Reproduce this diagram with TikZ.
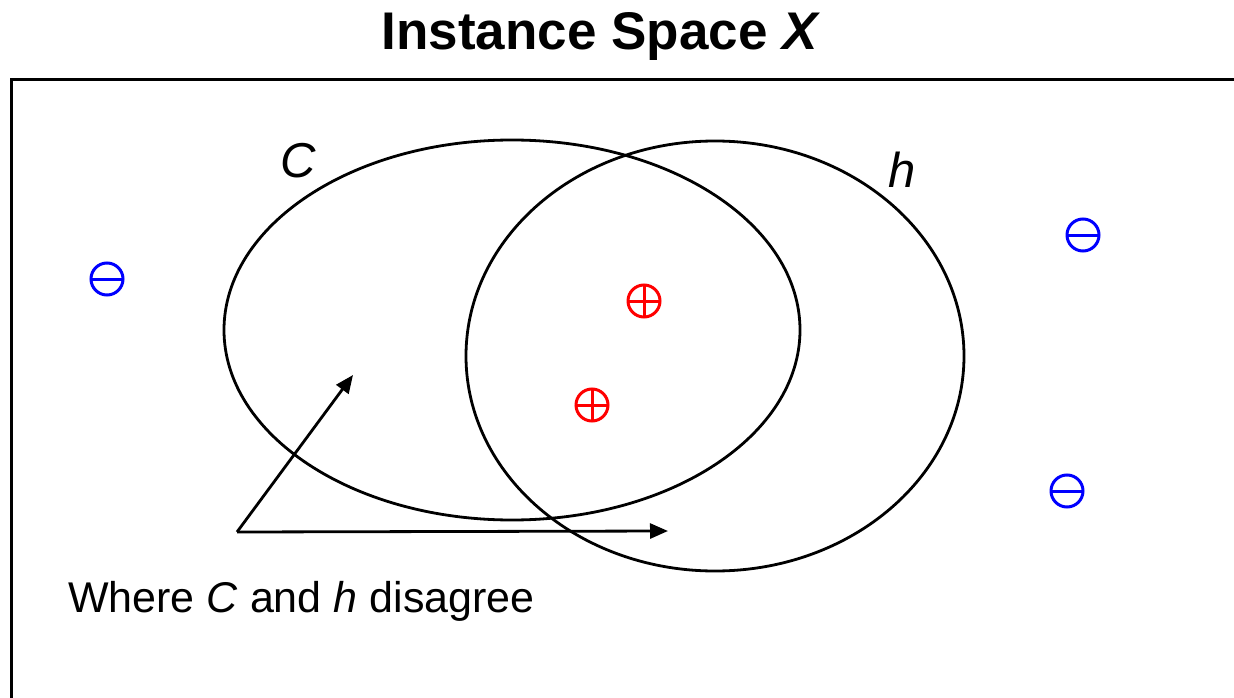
\documentclass[tikz,border=0pt]{standalone}
\usepackage{fontspec}
\setmainfont{Liberation Sans}
\usetikzlibrary{arrows.meta}
\begin{document}
\begin{tikzpicture}[x=1pt,y=-1pt,
  ell/.style={draw=black,line width=2.8pt},
  frameline/.style={draw=black,line width=3pt},
  sym/.style={circle,draw,line width=3pt,minimum size=32pt,inner sep=0pt},
  possym/.style={sym,draw=red,path picture={
      \draw[red,line width=3pt] (path picture bounding box.north) -- (path picture bounding box.south)
        (path picture bounding box.west) -- (path picture bounding box.east);}},
  negsym/.style={sym,draw=blue,path picture={
      \draw[blue,line width=3pt] (path picture bounding box.west) -- (path picture bounding box.east);}},
  arr/.style={draw=black,line width=2.8pt,-{Triangle[length=18pt,width=15pt]}},
  lbl/.style={inner sep=0pt,anchor=base west}
]
\useasboundingbox (0,0) rectangle (1234,698);
% frame
\draw[frameline] (11,698) -- (11,80) -- (1234,80);
% title
\node[inner sep=0pt,anchor=base] (title) at (601,50) {\fontsize{53}{60}\selectfont\bfseries Instance Space \textit{X}};
% ellipses
\draw[ell] (512,330) ellipse [x radius=288, y radius=190];
\draw[ell] (715,356) ellipse [x radius=249, y radius=215];
% labels
\node[lbl] (labC) at (280,178) {\fontsize{49}{56}\selectfont\itshape C};
\node[lbl] (labh) at (888,187) {\fontsize{49}{56}\selectfont\itshape h};
% symbols
\node[possym] (p1) at (644,301) {};
\node[possym] (p2) at (592,405) {};
\node[negsym] (n1) at (107,279) {};
\node[negsym] (n2) at (1083,235) {};
\node[negsym] (n3) at (1067,491) {};
% arrows
\coordinate (o) at (237,532);
\coordinate (t1) at (353,375);
\coordinate (t2) at (668,531);
\draw[arr] (o) -- (t1);
\draw[arr] (o) -- (t2);
% caption
\node[lbl] (cap) at (68,612) {\fontsize{43}{50}\selectfont Where \textit{C} and \textit{h} disagree};
\end{tikzpicture}
\end{document}
